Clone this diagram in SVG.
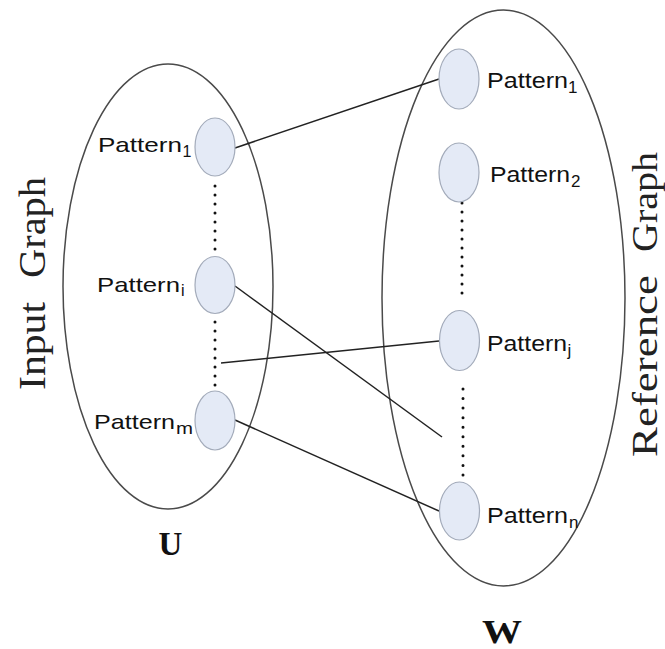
<svg xmlns="http://www.w3.org/2000/svg" width="665" height="649" viewBox="0 0 665 649">
  <style>
    .set { fill: none; stroke: #4a4a4a; stroke-width: 1.5; }
    .node { fill: #e4eaf6; stroke: #a3abba; stroke-width: 1.2; }
    .edge { stroke: #222; stroke-width: 1.5; fill: none; }
    .dots { stroke: #111; stroke-width: 3; stroke-linecap: round; stroke-dasharray: 0 9; fill: none; }
    .lbl { font-family: "Liberation Sans", Arial, sans-serif; font-size: 21px; fill: #111; }
    .sub { font-family: "Liberation Sans", Arial, sans-serif; font-size: 16px; fill: #111; }
    .side { font-family: "Liberation Serif", "Times New Roman", serif; font-size: 38px; fill: #222; }
    .set-name { font-family: "Liberation Serif", "Times New Roman", serif; font-size: 33px; font-weight: bold; fill: #111; text-anchor: middle; }
  </style>

  <!-- background -->
  <rect width="665" height="649" fill="#fff"/>

  <!-- set U (input graph) -->
  <g id="set-u">
    <ellipse class="set" cx="168" cy="286.5" rx="105" ry="222.5"/>
    <text class="set-name" x="170.5" y="555">U</text>
    <text class="side" transform="translate(45,390) rotate(-90)" x="0" y="0" textLength="88" lengthAdjust="spacingAndGlyphs">Input</text>
    <text class="side" transform="translate(45,390) rotate(-90)" x="112" y="0" textLength="101" lengthAdjust="spacingAndGlyphs">Graph</text>
  </g>

  <!-- set W (reference graph) -->
  <g id="set-w">
    <ellipse class="set" cx="503.5" cy="298" rx="121.5" ry="288"/>
    <text class="set-name" x="502" y="643" textLength="40" lengthAdjust="spacingAndGlyphs">W</text>
    <text class="side" transform="translate(657,457) rotate(-90)" x="0" y="0" textLength="182" lengthAdjust="spacingAndGlyphs" style="font-size:36px">Reference</text>
    <text class="side" transform="translate(657,457) rotate(-90)" x="205" y="0" textLength="100" lengthAdjust="spacingAndGlyphs" style="font-size:36px">Graph</text>
  </g>

  <!-- elided patterns -->
  <g id="ellipsis">
    <line class="dots" x1="215" y1="186" x2="215" y2="250"/>
    <line class="dots" x1="215" y1="322" x2="215" y2="386"/>
    <line class="dots" x1="462" y1="203" x2="462" y2="294"/>
    <line class="dots" x1="463" y1="389" x2="463" y2="476" style="stroke-dasharray:0 9.55"/>
  </g>

  <!-- matching edges -->
  <g id="connectors">
    <line class="edge" x1="235" y1="148" x2="439" y2="79"/>
    <line class="edge" x1="235" y1="286" x2="442" y2="437"/>
    <line class="edge" x1="221" y1="363" x2="439" y2="341"/>
    <line class="edge" x1="235" y1="420" x2="439" y2="511"/>
  </g>

  <!-- input graph patterns -->
  <g id="u-pattern-1">
    <ellipse class="node" cx="215" cy="147" rx="20" ry="29"/>
    <text class="lbl" x="98" y="151.7" textLength="84" lengthAdjust="spacingAndGlyphs">Pattern</text>
    <text class="sub" x="182.5" y="156.5">1</text>
  </g>
  <g id="u-pattern-i">
    <ellipse class="node" cx="215" cy="285" rx="20" ry="28.5"/>
    <text class="lbl" x="97" y="291.7" textLength="83" lengthAdjust="spacingAndGlyphs">Pattern</text>
    <text class="sub" x="181" y="296">i</text>
  </g>
  <g id="u-pattern-m">
    <ellipse class="node" cx="215" cy="420.5" rx="20" ry="29.5"/>
    <text class="lbl" x="94" y="429" textLength="81" lengthAdjust="spacingAndGlyphs">Pattern</text>
    <text class="sub" x="176" y="433.5" textLength="17" lengthAdjust="spacingAndGlyphs">m</text>
  </g>

  <!-- reference graph patterns -->
  <g id="w-pattern-1">
    <ellipse class="node" cx="459" cy="79" rx="20" ry="30"/>
    <text class="lbl" x="487" y="88.3" textLength="81" lengthAdjust="spacingAndGlyphs" style="font-size:22px">Pattern</text>
    <text class="sub" x="568" y="93" style="font-size:17px">1</text>
  </g>
  <g id="w-pattern-2">
    <ellipse class="node" cx="459" cy="172.5" rx="20" ry="29.5"/>
    <text class="lbl" x="490" y="181.7" textLength="80" lengthAdjust="spacingAndGlyphs" style="font-size:22px">Pattern</text>
    <text class="sub" x="571" y="187" style="font-size:17px">2</text>
  </g>
  <g id="w-pattern-j">
    <ellipse class="node" cx="459.5" cy="340.5" rx="20" ry="30"/>
    <text class="lbl" x="487" y="350.7" textLength="80" lengthAdjust="spacingAndGlyphs" style="font-size:22px">Pattern</text>
    <text class="sub" x="567.5" y="355.5" style="font-size:17px">j</text>
  </g>
  <g id="w-pattern-n">
    <ellipse class="node" cx="459.5" cy="511" rx="20" ry="29"/>
    <text class="lbl" x="487" y="522.7" textLength="81" lengthAdjust="spacingAndGlyphs" style="font-size:22px">Pattern</text>
    <text class="sub" x="569" y="527.5" style="font-size:17px">n</text>
  </g>
</svg>
